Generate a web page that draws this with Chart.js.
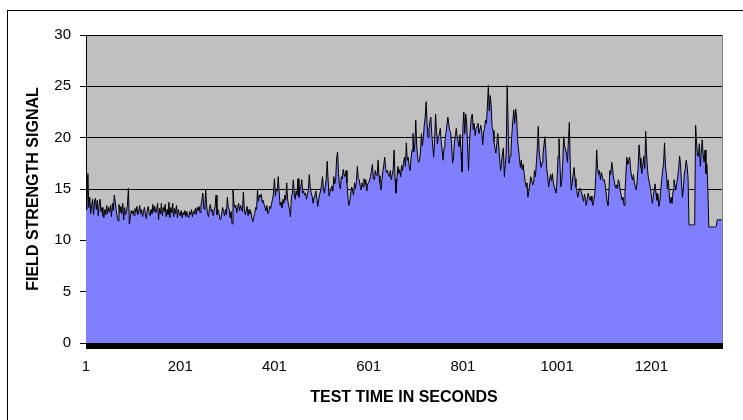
<!DOCTYPE html>
<html>
<head>
<meta charset="utf-8">
<script src="https://cdn.jsdelivr.net/npm/chart.js@4.4.1/dist/chart.umd.min.js"></script>
<style>
  html, body { margin: 0; padding: 0; background: #fff; }
  #wrap { position: relative; width: 743px; height: 420px; overflow: hidden; }
  #frame { position: absolute; left: 7px; top: 10px; width: 760px; height: 440px; border: 1px solid #000; }
  canvas { position: absolute; left: 0; top: 0; }
</style>
</head>
<body>
<div id="wrap">
  <div id="frame"></div>
  <canvas id="chart" width="743" height="420"></canvas>
</div>
<script>
// One reading every 2 seconds, starting at second 1.
const SAMPLE_STEP = 2;
const FIRST_SECOND = 1;
const X_TICK_LABELS = [1, 201, 401, 601, 801, 1001, 1201];
const Y_TICKS = [0, 5, 10, 15, 20, 25, 30];

const signal = [
    13.0, 13.5, 16.5, 13.2, 14.2, 12.6, 13.4, 14.0, 12.5, 13.8, 14.1, 13.0, 13.9, 12.4, 13.5, 14.0, 12.8, 13.2, 12.4, 12.2, 13.0, 12.5, 13.4, 12.6, 13.2,
    12.8, 13.4, 12.3, 13.6, 12.9, 14.4, 13.8, 13.0, 12.4, 11.9, 13.5, 12.7, 13.3, 12.6, 13.6, 12.0, 13.2, 12.5, 12.8, 13.4, 15.1, 11.6, 12.2, 12.9, 12.6,
    12.9, 12.4, 13.1, 12.7, 13.3, 12.5, 12.9, 13.4, 12.6, 13.0, 12.3, 12.8, 13.2, 12.6, 12.1, 12.9, 13.3, 12.7, 12.4, 13.0, 12.6, 13.5, 12.8, 13.3, 12.7,
    12.9, 13.6, 12.0, 13.1, 12.6, 13.6, 12.4, 13.2, 12.8, 13.5, 12.3, 13.0, 12.5, 13.7, 12.2, 13.2, 12.7, 13.6, 12.3, 13.1, 12.6, 13.4, 12.2, 13.0, 12.6,
    12.4, 12.9, 12.2, 12.7, 12.5, 12.9, 12.3, 12.8, 12.4, 12.2, 12.8, 12.5, 13.0, 12.3, 12.8, 12.6, 13.1, 12.5, 13.2, 12.9, 13.3, 12.7, 13.4, 13.9, 14.6,
    13.2, 13.0, 14.9, 13.4, 12.6, 12.3, 13.1, 13.5, 12.8, 13.0, 12.4, 12.9, 13.3, 14.4, 12.5, 13.0, 12.7, 12.1, 12.0, 12.6, 13.2, 12.8, 12.4, 13.0, 12.5,
    14.2, 13.2, 13.0, 12.2, 12.8, 11.6, 15.0, 13.6, 13.2, 13.4, 12.7, 13.2, 13.6, 12.9, 13.4, 13.1, 12.8, 14.7, 13.1, 12.5, 12.9, 13.3, 12.4, 13.0, 12.6,
    12.8, 12.2, 11.8, 12.3, 12.6, 13.2, 13.0, 14.9, 13.8, 14.4, 14.2, 14.5, 13.7, 13.9, 13.5, 13.2, 12.9, 13.4, 12.6, 12.8, 13.3, 13.1, 13.6, 14.0, 14.6,
    16.0, 14.3, 15.0, 14.8, 16.2, 14.8, 13.4, 13.7, 13.2, 14.0, 13.6, 14.4, 13.9, 15.6, 14.0, 13.4, 13.0, 12.3, 14.2, 14.6, 15.9, 14.6, 14.0, 14.8, 14.4,
    16.0, 14.2, 14.9, 15.2, 15.9, 14.6, 14.8, 14.4, 14.6, 14.0, 14.5, 14.9, 16.4, 15.1, 14.6, 14.3, 13.6, 14.2, 14.5, 14.8, 14.1, 13.3, 14.0, 14.5, 14.8,
    15.4, 16.2, 15.0, 14.6, 15.3, 16.0, 17.7, 15.8, 14.3, 14.8, 15.0, 15.3, 14.8, 16.2, 15.5, 16.0, 18.0, 18.6, 16.5, 15.4, 15.0, 16.2, 16.0, 16.9, 16.4,
    16.2, 16.8, 15.6, 14.2, 13.4, 13.8, 14.6, 15.2, 14.8, 14.4, 15.6, 15.0, 15.8, 17.2, 16.0, 15.9, 15.3, 14.9, 15.6, 15.2, 16.0, 15.4, 15.9, 14.8, 15.5,
    15.6, 15.9, 16.2, 16.8, 17.4, 16.0, 15.9, 16.8, 16.4, 16.3, 17.8, 16.3, 15.6, 14.9, 15.8, 16.7, 17.3, 18.1, 17.0, 16.6, 16.8, 16.4, 16.2, 16.8, 15.9,
    16.4, 16.9, 18.8, 16.0, 14.6, 15.9, 17.2, 16.5, 16.9, 16.2, 17.3, 16.8, 17.6, 18.1, 17.2, 19.5, 17.8, 18.1, 17.2, 16.8, 18.0, 18.8, 20.4, 18.6, 19.4,
    21.7, 19.2, 18.1, 17.6, 17.8, 18.6, 20.4, 19.2, 20.0, 21.2, 22.0, 23.5, 21.4, 20.0, 20.8, 21.6, 22.0, 20.3, 19.2, 18.1, 19.8, 22.3, 20.6, 19.4, 20.1,
    20.3, 20.9, 19.6, 18.8, 17.8, 19.0, 19.8, 20.4, 21.2, 22.0, 21.3, 20.7, 20.5, 19.4, 17.5, 18.0, 19.6, 20.2, 20.9, 20.0, 19.6, 19.1, 20.3, 18.6, 16.7,
    21.0, 22.5, 20.4, 22.3, 21.5, 19.2, 16.8, 19.6, 21.0, 22.0, 22.3, 20.8, 21.4, 20.2, 20.9, 21.1, 21.4, 20.4, 20.8, 21.2, 20.6, 19.3, 20.5, 20.9, 21.7,
    21.4, 23.0, 25.1, 22.6, 24.1, 23.2, 21.0, 20.7, 19.6, 19.0, 18.5, 19.4, 20.4, 19.2, 18.0, 16.8, 17.6, 18.4, 19.0, 16.2, 17.4, 18.5, 25.1, 21.3, 17.5,
    18.2, 18.7, 20.4, 21.6, 22.7, 21.4, 22.8, 22.1, 19.8, 18.9, 18.0, 17.1, 17.8, 16.9, 17.4, 16.5, 15.8, 15.2, 15.6, 14.2, 14.8, 15.4, 16.2, 15.9, 15.4,
    15.6, 16.8, 16.2, 17.5, 19.0, 21.1, 18.6, 17.8, 17.1, 17.6, 18.4, 19.2, 20.1, 18.8, 17.0, 16.2, 15.2, 15.9, 16.4, 15.8, 16.5, 15.6, 15.2, 14.9, 14.6,
    16.0, 18.2, 19.9, 17.4, 15.2, 15.8, 17.6, 20.1, 19.2, 18.8, 18.5, 17.6, 19.8, 21.5, 17.0, 14.9, 15.6, 16.4, 17.1, 16.0, 15.2, 14.8, 14.2, 14.7, 15.1,
    14.9, 14.6, 14.2, 13.8, 14.5, 14.0, 13.4, 14.1, 14.6, 14.2, 13.9, 14.3, 13.8, 13.4, 14.0, 14.5, 16.2, 18.8, 17.0, 16.4, 16.8, 15.9, 16.6, 16.2, 15.8,
    15.9, 15.4, 14.6, 13.8, 13.4, 14.8, 16.8, 16.4, 17.6, 16.9, 16.0, 15.6, 15.1, 15.4, 15.0, 15.9, 15.6, 14.8, 14.4, 13.9, 14.2, 13.4, 14.6, 16.4, 18.1,
    17.4, 17.8, 18.1, 16.9, 16.2, 15.9, 16.4, 15.6, 15.2, 14.9, 15.8, 17.2, 19.3, 18.0, 17.1, 16.5, 17.4, 18.2, 17.0, 20.6, 18.4, 16.8, 16.0, 15.6, 15.1,
    14.4, 13.6, 14.2, 14.9, 15.5, 14.6, 13.9, 14.5, 13.3, 13.8, 14.9, 15.9, 16.8, 17.5, 19.5, 17.2, 16.5, 15.0, 15.9, 14.5, 13.6, 14.2, 13.6, 14.8, 15.9,
    15.4, 14.9, 15.6, 16.2, 17.0, 18.2, 17.4, 15.6, 14.2, 15.0, 16.4, 17.0, 17.8, 17.2, 16.0, 11.5, 11.5, 11.5, 11.5, 11.5, 11.5, 11.5, 21.2, 19.6, 18.2,
    18.2, 19.4, 17.2, 18.6, 19.8, 18.4, 17.6, 18.8, 16.5, 17.4, 14.9, 11.3, 11.3, 11.3, 11.3, 11.3, 11.3, 11.3, 11.3, 11.4, 12.0, 12.0, 12.0, 12.0, 12.0, 12.0
];

const seconds = signal.map((_, i) => FIRST_SECOND + i * SAMPLE_STEP);
const lastSecond = seconds[seconds.length - 1];

const FONT = "'Liberation Sans', Arial, sans-serif";

// Gray plot area with a dark right edge, as in the old spreadsheet chart.
const plotArea = {
    id: 'plotArea',
    beforeDraw(chart) {
        const { ctx, chartArea: a } = chart;
        ctx.save();
        ctx.fillStyle = '#C0C0C0';
        ctx.fillRect(a.left, a.top, a.right - a.left, a.bottom - a.top);
        ctx.restore();
    },
    afterDraw(chart) {
        const { ctx, chartArea: a } = chart;
        ctx.save();
        ctx.strokeStyle = '#808080';
        ctx.lineWidth = 1;
        ctx.beginPath();
        ctx.moveTo(a.right + 0.5, a.top);
        ctx.lineTo(a.right + 0.5, a.bottom);
        ctx.stroke();
        ctx.restore();
    }
};

new Chart(document.getElementById('chart'), {
    type: 'line',
    data: {
        labels: seconds,
        datasets: [{
            data: signal,
            fill: 'origin',
            backgroundColor: '#8080FF',
            borderColor: '#000000',
            borderWidth: 1,
            pointRadius: 0,
            tension: 0
        }]
    },
    options: {
        responsive: false,
        animation: false,
        devicePixelRatio: 1,
        layout: { padding: { left: 20, right: 21, top: 35, bottom: 0 } },
        plugins: {
            legend: { display: false },
            tooltip: { enabled: false }
        },
        scales: {
            x: {
                type: 'linear',
                min: FIRST_SECOND,
                max: lastSecond,
                ticks: {
                    stepSize: SAMPLE_STEP,
                    autoSkip: false,
                    maxRotation: 0,
                    minRotation: 0,
                    padding: 9,
                    color: '#000',
                    font: { family: FONT, size: 15 },
                    callback: v => (X_TICK_LABELS.includes(v) ? String(v) : '')
                },
                grid: { drawOnChartArea: false, color: '#000', tickLength: 6 },
                border: { color: '#000' },
                title: {
                    display: true,
                    text: 'TEST TIME IN SECONDS',
                    color: '#000',
                    font: { family: FONT, size: 16, weight: 'bold' },
                    padding: { top: 4, bottom: 13 }
                },
                afterFit: s => { s.height = 77; }
            },
            y: {
                min: Y_TICKS[0],
                max: Y_TICKS[Y_TICKS.length - 1],
                ticks: {
                    stepSize: Y_TICKS[1] - Y_TICKS[0],
                    padding: 9,
                    color: '#000',
                    font: { family: FONT, size: 15 }
                },
                grid: { color: '#000', tickLength: 6 },
                border: { color: '#000' },
                title: {
                    display: true,
                    text: 'FIELD STRENGTH SIGNAL',
                    color: '#000',
                    font: { family: FONT, size: 16, weight: 'bold' },
                    padding: { top: 4, bottom: 0 }
                },
                afterFit: s => { s.width = 66; }
            }
        }
    },
    plugins: [plotArea]
});
</script>
</body>
</html>
